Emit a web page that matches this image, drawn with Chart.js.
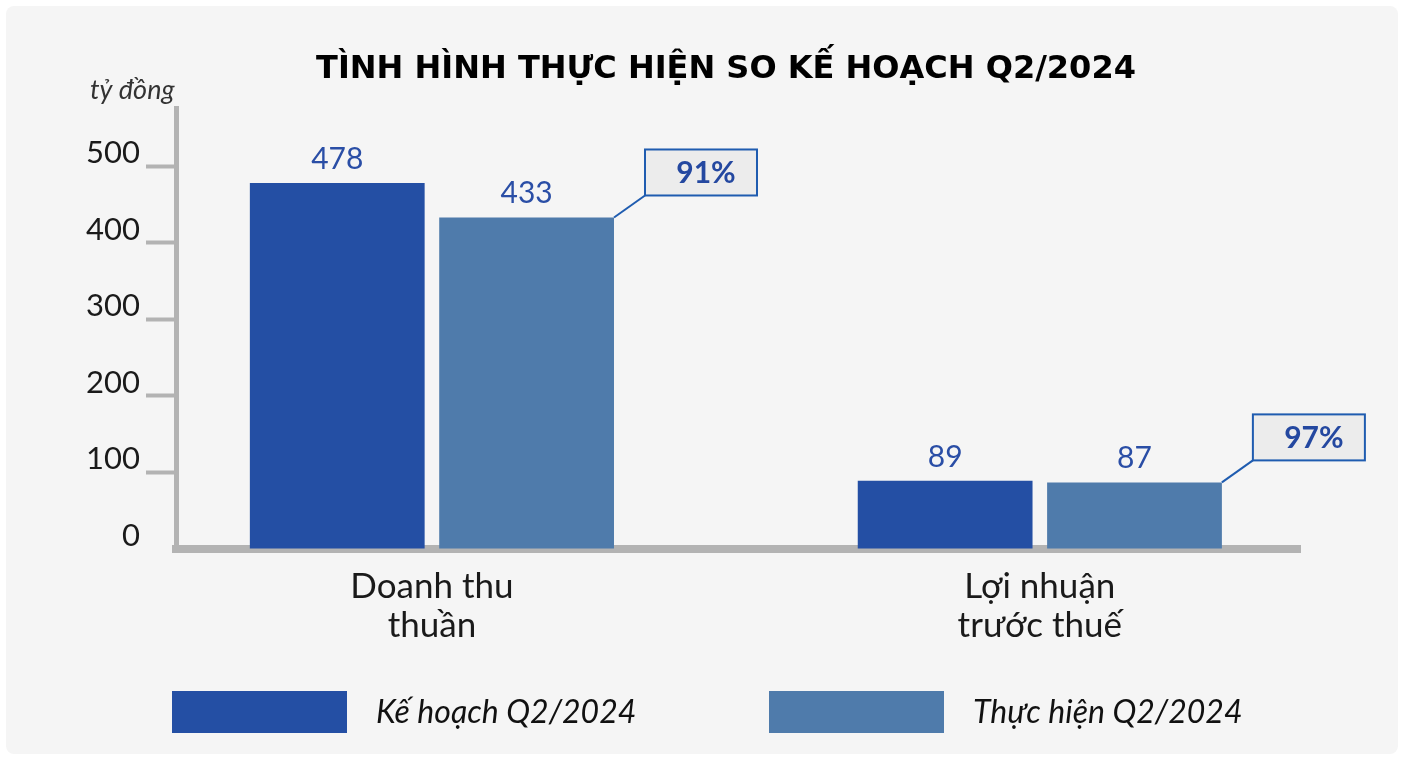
<!DOCTYPE html>
<html>
<head>
<meta charset="utf-8">
<script src="https://cdn.jsdelivr.net/npm/chart.js@4"></script>
<style>
  html, body { margin: 0; padding: 0; background: #fff; }
  #wrap { position: relative; width: 1403px; height: 758px; }
</style>
</head>
<body>
<div id="wrap">
  <canvas id="myChart" width="1403" height="758"></canvas>
</div>
<script>
// data
const categories = [['Doanh thu', 'thuần'], ['Lợi nhuận', 'trước thuế']];
const seriesNames = ['Kế hoạch Q2/2024', 'Thực hiện Q2/2024'];
const keHoach = [478, 89];
const thucHien = [433, 87];
const completion = ['91%', '97%'];
const yTicks = [0, 100, 200, 300, 400, 500];
const chartTitle = 'TÌNH HÌNH THỰC HIỆN SO KẾ HOẠCH Q2/2024';
const unitLabel = 'tỷ đồng';

const colors = ['#244fa4', '#4f7bab'];

Chart.defaults.font.family = 'Lato';

// panel, title, value labels, callouts, unit label and legend
const decorations = {
  id: 'decorations',
  beforeDraw(chart) {
    const ctx = chart.ctx;
    ctx.save();
    ctx.fillStyle = '#f5f5f5';
    ctx.beginPath();
    ctx.roundRect(6, 6, 1392, 748, 8);
    ctx.fill();
    ctx.restore();
  },
  afterDraw(chart) {
    const ctx = chart.ctx;
    ctx.save();

    // title (sits a bit right of the page centre in the original)
    ctx.font = 'bold 32px "DejaVu Sans"';
    ctx.fillStyle = '#000';
    ctx.textAlign = 'center';
    ctx.textBaseline = 'alphabetic';
    ctx.fillText(chartTitle, 726, 78);

    // values above the bars
    ctx.font = '30px Lato';
    ctx.fillStyle = '#2a4ea6';
    ctx.textAlign = 'center';
    ctx.textBaseline = 'middle';
    chart.data.datasets.forEach((ds, d) => {
      chart.getDatasetMeta(d).data.forEach((bar, i) => {
        ctx.fillText(ds.data[i].y, bar.x, bar.y - 24);
      });
    });

    // completion callouts next to the "thuc hien" bars
    chart.getDatasetMeta(1).data.forEach((bar, i) => {
      const right = bar.x + bar.width / 2;
      const bx = right + 31, by = bar.y - 22 - 46;
      ctx.strokeStyle = '#1f5cb0';
      ctx.lineWidth = 2;
      ctx.beginPath();
      ctx.moveTo(right, bar.y);
      ctx.lineTo(bx, bar.y - 22);
      ctx.stroke();
      ctx.fillStyle = '#ececec';
      ctx.fillRect(bx, by, 112, 46);
      ctx.strokeRect(bx, by, 112, 46);
      ctx.fillStyle = '#2448a0';
      ctx.font = 'bold 30px Lato';
      ctx.textAlign = 'center';
      ctx.fillText(completion[i], bx + 61, by + 24);
    });

    // unit label
    ctx.font = 'italic 27px Lato';
    ctx.fillStyle = '#333';
    ctx.textAlign = 'left';
    ctx.fillText(unitLabel, 90, 90);

    // legend
    chart.data.datasets.forEach((ds, d) => {
      const x = 172 + d * 597;
      ctx.fillStyle = ds.backgroundColor;
      ctx.fillRect(x, 691, 175, 42);
      ctx.fillStyle = '#111';
      ctx.font = 'italic 32px Lato';
      ctx.textAlign = 'left';
      ctx.fillText(ds.label, x + 204, 713);
    });

    ctx.restore();
  }
};

new Chart(document.getElementById('myChart'), {
  type: 'bar',
  data: {
    datasets: [
      {
        label: seriesNames[0],
        data: keHoach.map((v, i) => ({ x: i, y: v })),
        backgroundColor: colors[0]
      },
      {
        label: seriesNames[1],
        data: thucHien.map((v, i) => ({ x: i, y: v })),
        backgroundColor: colors[1]
      }
    ]
  },
  options: {
    responsive: false,
    animation: false,
    devicePixelRatio: 1,
    categoryPercentage: 0.623,
    barPercentage: 0.923,
    layout: { padding: { left: 0, right: 103, top: 108, bottom: 0 } },
    plugins: {
      legend: { display: false },
      tooltip: { enabled: false },
      title: { display: false }
    },
    scales: {
      x: {
        type: 'linear',
        offset: false,
        min: -0.421,
        max: 1.428,
        afterBuildTicks: s => { s.ticks = categories.map((c, i) => ({ value: i })); },
        afterFit: s => { s.height = 209; },
        grid: { display: false, offset: false },
        border: { display: true, color: '#b3b3b3', width: 8 },
        ticks: {
          callback: v => categories[v],
          color: '#1a1a1a',
          padding: 10,
          maxRotation: 0,
          autoSkip: false,
          font: { size: 35, lineHeight: 1.12 }
        }
      },
      y: {
        min: 0,
        max: 576,
        afterBuildTicks: s => { s.ticks = yTicks.map(v => ({ value: v })); },
        afterFit: s => { s.width = 176; },
        grid: {
          drawOnChartArea: false,
          drawTicks: true,
          tickLength: 30,
          color: '#b3b3b3',
          tickColor: c => (c.tick && c.tick.value === 0 ? 'rgba(0,0,0,0)' : '#b3b3b3'),
          tickWidth: 4
        },
        border: { display: true, color: '#b3b3b3', width: 5 },
        ticks: {
          color: '#1a1a1a',
          padding: 6,
          labelOffset: -13,
          font: { size: 31 }
        }
      }
    }
  },
  plugins: [decorations]
});
</script>
</body>
</html>
